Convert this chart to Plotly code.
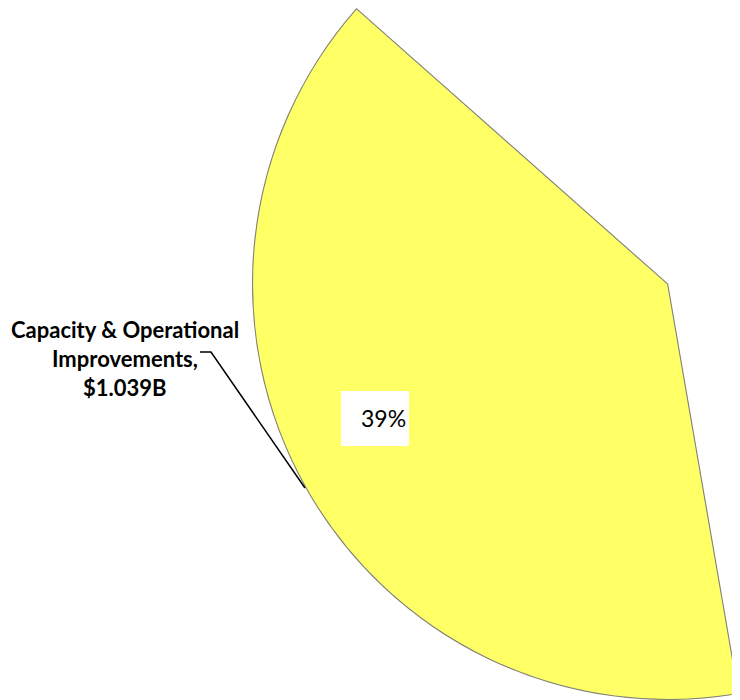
import plotly.graph_objects as go

# ---- data ----
categories = ["Capacity & Operational Improvements"]
values_billion = [1.039]
shares_pct = [39.25]  # wedge share (label shows rounded value)

# ---- style / layout constants ----
W, H = 740, 700
OFF = 8  # page body margin offset of the figure in the browser
START_ANGLE = 138.5  # degrees, counterclockwise from east
FILL = "#FFFF66"
EDGE = "#808080"

span = [p / 100 * 360 for p in shares_pct]
mid = [START_ANGLE + s / 2 for s in span]

fig = go.Figure()
fig.add_trace(go.Barpolar(
    r=[1] * len(categories),
    theta=mid,
    width=span,
    marker=dict(color=FILL, line=dict(color=EDGE, width=2.2)),
    name=categories[0],
    hoverinfo="skip",
))

# convert page pixel positions (as seen in the screenshot) to paper coords
def px(x):
    return (x - OFF) / W

def py(y):
    return 1 - (y - OFF) / H

end_angle = START_ANGLE + span[0]
fig.update_layout(
    width=W, height=H,
    margin=dict(l=0, r=0, t=0, b=0),
    paper_bgcolor="white",
    showlegend=False,
    polar=dict(
        domain=dict(x=[px(251), px(740)], y=[py(700), 1]),
        sector=[START_ANGLE, end_angle],
        bgcolor="rgba(0,0,0,0)",
        radialaxis=dict(visible=False, range=[0, 1], showgrid=False),
        angularaxis=dict(visible=False, rotation=0, direction="counterclockwise", showgrid=False),
    ),
)

# white box behind percentage label
fig.add_shape(type="rect", xref="paper", yref="paper",
              x0=px(341), x1=px(409), y0=py(446), y1=py(391),
              fillcolor="white", line=dict(width=0), layer="above")

fig.add_annotation(
    x=px(383), y=py(418), xref="paper", yref="paper",
    text=f"{round(shares_pct[0])}%", showarrow=False,
    font=dict(family="Lato", size=23, color="black"),
    xanchor="center", yanchor="middle",
)

# leader line
fig.add_shape(type="path", xref="paper", yref="paper",
              path=f"M {px(200)} {py(352)} L {px(211)} {py(352)} L {px(305)} {py(488)}",
              line=dict(color="black", width=1.5))

label_lines = ["Capacity & Operational", "Improvements,", f"${values_billion[0]:.3f}B"]
for t, y in zip(label_lines, [329, 358, 387]):
    fig.add_annotation(
        x=px(125), y=py(y), xref="paper", yref="paper",
        text=f"<b>{t}</b>", showarrow=False,
        font=dict(family="Lato", size=22, color="black"),
        xanchor="center", yanchor="middle",
    )

fig.write_html("out.html")
